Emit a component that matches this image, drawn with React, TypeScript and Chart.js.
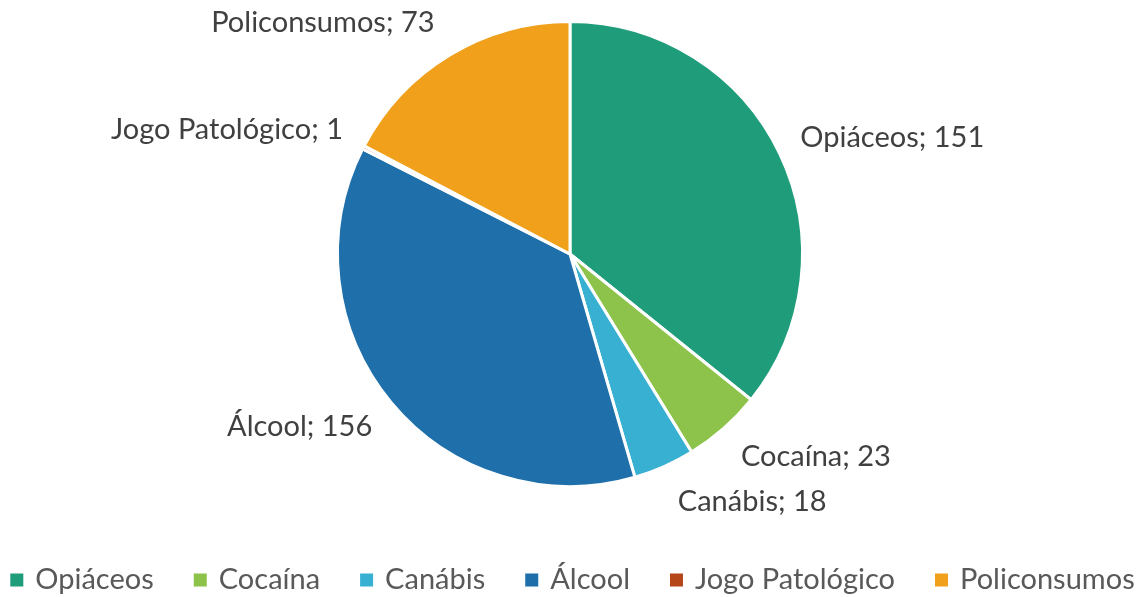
import React, { useEffect, useRef } from "react";
import { Chart, registerables } from "chart.js";

Chart.register(...registerables);

const categories = ["Opiáceos", "Cocaína", "Canábis", "Álcool", "Jogo Patológico", "Policonsumos"];
const values = [151, 23, 18, 156, 1, 73];
const colors = ["#1F9C7A", "#8DC34A", "#37B0D1", "#1F6FAA", "#B5461A", "#F1A01C"];

const FONT = "Lato, 'Open Sans', sans-serif";

const labelPlugin = {
  id: "outerLabels",
  afterDatasetsDraw(chart: any) {
    const ctx = chart.ctx;
    const meta = chart.getDatasetMeta(0);
    const data = chart.data.datasets[0].data;
    ctx.save();
    ctx.font = `29px ${FONT}`;
    ctx.fillStyle = "#404040";
    meta.data.forEach((arc: any, i: number) => {
      const { x, y, startAngle, endAngle, outerRadius } = arc.getProps(
        ["x", "y", "startAngle", "endAngle", "outerRadius"],
        true
      );
      const mid = (startAngle + endAngle) / 2;
      const cx = Math.cos(mid);
      const cy = Math.sin(mid);
      const px = x + cx * (outerRadius + 14);
      const py = y + cy * (outerRadius + 38);
      const text = `${chart.data.labels[i]}; ${data[i]}`;
      ctx.textBaseline = "middle";
      if (cx >= 0) {
        ctx.textAlign = "left";
        ctx.fillText(text, px + 8, py);
      } else {
        ctx.textAlign = "right";
        ctx.fillText(text, px - 8, py);
      }
    });
    ctx.restore();
  },
};

const legendPlugin = {
  id: "customLegend",
  afterDraw(chart: any) {
    const ctx = chart.ctx;
    const labels: string[] = chart.data.labels;
    const bg: string[] = chart.data.datasets[0].backgroundColor;
    ctx.save();
    ctx.font = `29px ${FONT}`;
    const box = 13;
    const gapBoxText = 12;
    const gapItems = 40;
    const widths = labels.map((l) => box + gapBoxText + ctx.measureText(l).width);
    const total = widths.reduce((a, b) => a + b, 0) + gapItems * (labels.length - 1);
    let xx = (chart.width - total) / 2;
    const yy = 580;
    ctx.textBaseline = "middle";
    ctx.textAlign = "left";
    labels.forEach((l, i) => {
      ctx.fillStyle = bg[i];
      ctx.fillRect(xx, yy - box / 2, box, box);
      ctx.fillStyle = "#595959";
      ctx.fillText(l, xx + box + gapBoxText, yy);
      xx += widths[i] + gapItems;
    });
    ctx.restore();
  },
};

export default function App() {
  const ref = useRef<HTMLCanvasElement>(null);
  useEffect(() => {
    if (!ref.current) return;
    const chart = new Chart(ref.current, {
      type: "pie",
      data: {
        labels: categories,
        datasets: [
          {
            data: values,
            backgroundColor: colors,
            borderColor: "#ffffff",
            borderWidth: 3,
            hoverOffset: 0,
          },
        ],
      },
      options: {
        animation: false,
        responsive: false,
        layout: { padding: { top: 20, bottom: 109, left: 0, right: 5 } },
        plugins: {
          legend: { display: false },
          tooltip: { enabled: false },
        },
      },
      plugins: [labelPlugin, legendPlugin],
    });
    return () => chart.destroy();
  }, []);
  return (
    <div style={{ position: "fixed", left: 0, top: 0, width: 1145, height: 597, background: "#fff" }}>
      <canvas ref={ref} width={1145} height={597} style={{ width: 1145, height: 597 }} />
    </div>
  );
}
